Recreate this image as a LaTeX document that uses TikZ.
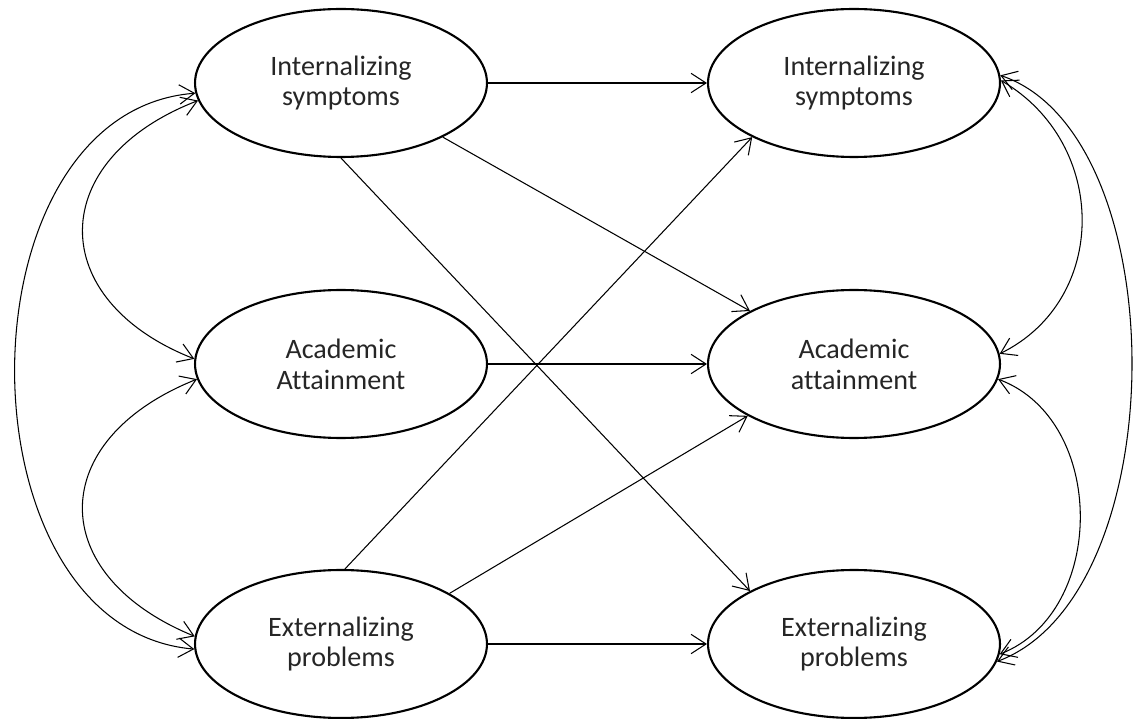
\documentclass[tikz,border=0pt]{standalone}
\usepackage{fontspec}
\setmainfont[Ligatures=NoCommon]{Carlito}
\usetikzlibrary{shapes.geometric,arrows.meta}
\begin{document}
\begin{tikzpicture}[x=0.02cm,y=-0.02cm,
  var/.style={ellipse,draw,line width=1.2pt,minimum width=5.84cm,minimum height=2.96cm,inner sep=0pt,
    align=center,font=\fontsize{16}{17.6}\selectfont,text=black!85},
  path/.style={draw,line width=0.6pt,-{Straight Barb[length=8.5pt,width=11pt]}},
  cov/.style={draw,line width=0.6pt,{Straight Barb[length=8.5pt,width=11pt]}-{Straight Barb[length=8.5pt,width=11pt]}}]
\useasboundingbox (0,0) rectangle (1136,719);
\node[var] (intL) at (341,83) {Internalizing\\symptoms};
\node[var] (acaL) at (341,364) {Academic\\Attainment};
\node[var] (extL) at (341,644) {Externalizing\\problems};
\node[var] (intR) at (854,83) {Internalizing\\symptoms};
\node[var] (acaR) at (854,364) {Academic\\attainment};
\node[var] (extR) at (854,644) {Externalizing\\problems};
% straight paths
\draw[path] (intL.east) -- (intR.west);
\draw[path] (acaL.east) -- (acaR.west);
\draw[path] (extL.east) -- (extR.west);
\draw[path] (intL.332.6) -- (acaR.153.9);
\draw[path] (intL.270.5) -- (extR.153.4);
\draw[path] (extL.87) -- (intR.208.3);
\draw[path] (extL.25.9) -- (acaR.206);
% left covariances
\draw[cov] (intL.184) .. controls (-45,112) and (-45,628) .. (extL.182);
\draw[cov] (intL.187) .. controls (45,160) and (45,300) .. (acaL.178.4);
\draw[cov] (acaL.186) .. controls (45,440) and (45,575) .. (extL.177);
% right covariances
\draw[cov] (intR.3) .. controls (1176,135) and (1176,594) .. (extR.353);
\draw[cov] (intR.1) .. controls (1109,144) and (1109,300) .. (acaR.4);
\draw[cov] (acaR.354) .. controls (1107,420) and (1107,612) .. (extR.356);
\end{tikzpicture}
\end{document}
